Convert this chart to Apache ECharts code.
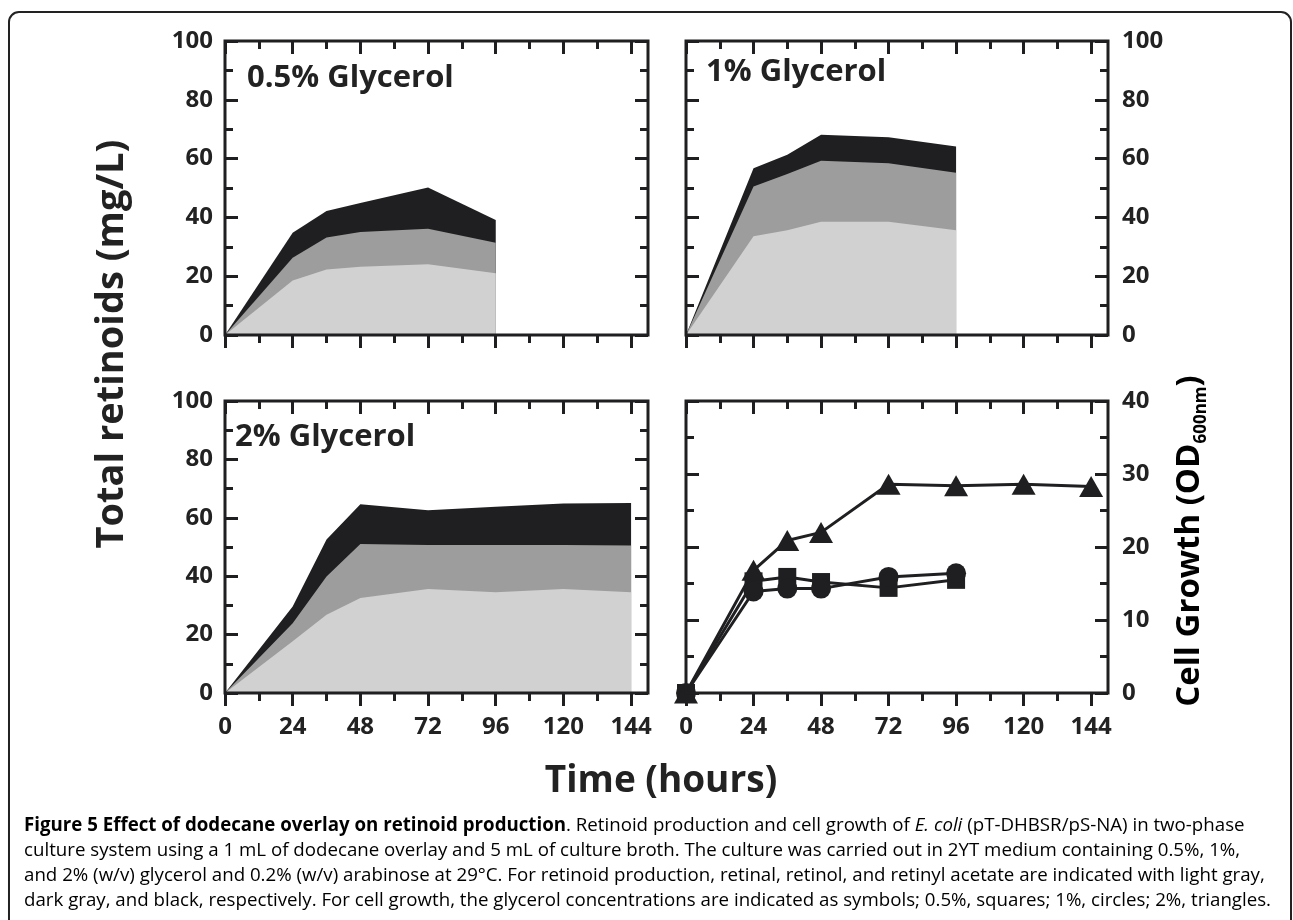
<!DOCTYPE html>
<html>
<head>
<meta charset="utf-8">
<script src="https://cdn.jsdelivr.net/npm/echarts@6/dist/echarts.min.js"></script>
<style>
  html, body { margin: 0; padding: 0; background: #fff; }
  #chart { width: 1293px; height: 920px; }
</style>
</head>
<body>
<div id="chart"></div>
<script>
// time points (hours)
const hours96 = [0, 24, 36, 48, 72, 96];
const hours144 = [0, 24, 36, 48, 72, 96, 120, 144];
const timeTicks = [0, 24, 48, 72, 96, 120, 144];
const timeMinorTicks = [12, 36, 60, 84, 108, 132];

// retinoids (mg/L): retinal (light gray), retinol (dark gray), retinyl acetate (black)
const retinal05 = [0, 18.5, 22.3, 23.2, 24.1, 21.0];
const retinol05 = [0, 7.8, 10.9, 11.8, 12.0, 10.4];
const acetate05 = [0, 8.5, 9.0, 9.9, 14.1, 7.7];

const retinal1 = [0, 33.6, 35.6, 38.5, 38.5, 35.6];
const retinol1 = [0, 16.9, 19.2, 20.8, 19.9, 19.6];
const acetate1 = [0, 6.2, 6.5, 8.8, 8.9, 8.9];

const retinal2 = [0, 17.7, 26.8, 32.5, 35.6, 34.5, 35.6, 34.5];
const retinol2 = [0, 6.2, 13.1, 18.5, 15.1, 16.2, 15.1, 16.0];
const acetate2 = [0, 5.7, 12.7, 13.6, 11.9, 13.1, 14.2, 14.6];

// cell growth OD600
const growth05 = [0, 15.3, 15.9, 15.2, 14.4, 15.5];   // squares
const growth1 = [0, 13.9, 14.3, 14.3, 15.9, 16.4];    // circles
const growth2 = [0, 16.8, 20.9, 22.0, 28.6, 28.4, 28.6, 28.3]; // triangles

const panelTitles = ['0.5% Glycerol', '1% Glycerol', '2% Glycerol'];

const FONT = '"Open Sans", "DejaVu Sans", sans-serif';
const INK = '#1f1f21';
const LIGHT = '#d1d1d1';
const DARK = '#9d9d9d';

const grids = [
  { left: 225, top: 41, width: 423, height: 294 },
  { left: 686, top: 41, width: 422, height: 294 },
  { left: 225, top: 401, width: 423, height: 292 },
  { left: 686, top: 401, width: 422, height: 292 }
];

const xAxes = [];
const yAxes = [];

function tickLabel() {
  return { fontFamily: FONT, fontWeight: 'bold', fontSize: 24, color: '#222' };
}

grids.forEach(function (g, i) {
  const bottomRow = i >= 2;
  const rightCol = i % 2 === 1;
  const base = { type: 'value', gridIndex: i, min: 0, max: 150, splitLine: { show: false },
    axisLine: { show: false, onZero: false } };
  // bottom major
  xAxes.push(Object.assign({}, base, {
    position: 'bottom',
    axisTick: { show: true, inside: false, length: 13, customValues: timeTicks,
      lineStyle: { color: INK, width: 3 } },
    axisLabel: Object.assign(tickLabel(), { show: bottomRow, customValues: timeTicks, margin: 22 })
  }));
  // bottom minor
  xAxes.push(Object.assign({}, base, {
    position: 'bottom',
    axisTick: { show: true, inside: false, length: 8, customValues: timeMinorTicks,
      lineStyle: { color: INK, width: 3 } },
    axisLabel: { show: false }
  }));
  // top major
  xAxes.push(Object.assign({}, base, {
    position: 'top',
    axisTick: { show: true, inside: true, length: 13, customValues: timeTicks,
      lineStyle: { color: INK, width: 3 } },
    axisLabel: { show: false }
  }));
  // top minor
  xAxes.push(Object.assign({}, base, {
    position: 'top',
    axisTick: { show: true, inside: true, length: 8, customValues: timeMinorTicks,
      lineStyle: { color: INK, width: 3 } },
    axisLabel: { show: false }
  }));

  const yMax = i === 3 ? 40 : 100;
  const yInt = i === 3 ? 10 : 20;
  ['left', 'right'].forEach(function (side) {
    const labelled = (side === 'left') !== rightCol;
    yAxes.push({
      type: 'value', gridIndex: i, position: side, min: 0, max: yMax, interval: yInt,
      splitLine: { show: false },
      axisLine: { show: false, onZero: false },
      axisTick: { show: true, inside: true, length: 13, lineStyle: { color: INK, width: 3 } },
      minorTick: { show: true, splitNumber: 2, length: 8, lineStyle: { color: INK, width: 3 } },
      axisLabel: Object.assign(tickLabel(), { show: labelled, margin: side === 'left' ? 12 : 14 })
    });
  });
});

function zip(xs, ys) {
  return xs.map(function (x, k) { return [x, ys[k]]; });
}

// cumulative layers drawn back to front (total first), each filled down to zero
function areaSeries(panel, hours, layers) {
  const colors = [LIGHT, DARK, INK];
  const names = ['retinal', 'retinol', 'retinyl acetate'];
  const cum = [];
  layers.forEach(function (vals, k) {
    cum.push(vals.map(function (v, j) { return (k ? cum[k - 1][j] : 0) + v; }));
  });
  return cum.map(function (vals, k) {
    return {
      name: names[k], type: 'line', xAxisIndex: panel * 4, yAxisIndex: panel * 2 + (panel % 2),
      data: zip(hours, vals), showSymbol: false, symbol: 'none',
      lineStyle: { width: 0 }, areaStyle: { color: colors[k], opacity: 1 },
      silent: true, z: 2
    };
  }).reverse();
}

function growthSeries(name, hours, vals, symbol, size) {
  return {
    name: name, type: 'line', xAxisIndex: 12, yAxisIndex: 7,
    data: zip(hours, vals), symbol: symbol, symbolSize: size, showAllSymbol: true,
    clip: false,
    lineStyle: { color: INK, width: 3 }, itemStyle: { color: INK }, z: 3
  };
}

const series = []
  .concat(areaSeries(0, hours96, [retinal05, retinol05, acetate05]))
  .concat(areaSeries(1, hours96, [retinal1, retinol1, acetate1]))
  .concat(areaSeries(2, hours144, [retinal2, retinol2, acetate2]))
  .concat([
    growthSeries('0.5%', hours96, growth05, 'rect', 18),
    growthSeries('1%', hours96, growth1, 'circle', 20),
    growthSeries('2%', hours144, growth2, 'triangle', [24, 21])
  ]);

const CAP = 18.7;
const captionRich = {
  b: { fontFamily: FONT, fontWeight: 'bold', fontSize: CAP, color: '#231f20' },
  n: { fontFamily: FONT, fontSize: CAP, color: '#231f20' },
  i: { fontFamily: FONT, fontStyle: 'italic', fontSize: CAP, color: '#231f20' }
};
const captionLines = [
  '{b|Figure 5 Effect of dodecane overlay on retinoid production}{n|. Retinoid production and cell growth of }{i|E. coli}{n| (pT-DHBSR/pS-NA) in two-phase}',
  '{n|culture system using a 1 mL of dodecane overlay and 5 mL of culture broth. The culture was carried out in 2YT medium containing 0.5%, 1%,}',
  '{n|and 2% (w/v) glycerol and 0.2% (w/v) arabinose at 29°C. For retinoid production, retinal, retinol, and retinyl acetate are indicated with light gray,}',
  '{n|dark gray, and black, respectively. For cell growth, the glycerol concentrations are indicated as symbols; 0.5%, squares; 1%, circles; 2%, triangles.}'
];

const graphics = [
  { type: 'rect', shape: { x: 9, y: 12, width: 1282, height: 940, r: 10 },
    style: { fill: 'none', stroke: '#222', lineWidth: 2 }, silent: true },
  { type: 'text', x: 247, y: 78, style: { text: panelTitles[0], font: 'bold 31px ' + FONT, fill: '#222', verticalAlign: 'middle' }, z: 10 },
  { type: 'text', x: 706, y: 72, style: { text: panelTitles[1], font: 'bold 31px ' + FONT, fill: '#222', verticalAlign: 'middle' }, z: 10 },
  { type: 'text', x: 235, y: 437, style: { text: panelTitles[2], font: 'bold 31px ' + FONT, fill: '#222', verticalAlign: 'middle' }, z: 10 },
  { type: 'text', x: 112, y: 344, rotation: Math.PI / 2,
    style: { text: 'Total retinoids (mg/L)', font: 'bold 38px ' + FONT, fill: '#222', align: 'center', verticalAlign: 'middle' } },
  { type: 'text', x: 1190, y: 541, rotation: Math.PI / 2,
    style: {
      text: '{a|Cell Growth (OD}{s|600nm}{a|)}',
      align: 'center', verticalAlign: 'middle',
      rich: {
        a: { fontFamily: FONT, fontWeight: 'bold', fontSize: 33, color: '#222', lineHeight: 40 },
        s: { fontFamily: FONT, fontWeight: 'bold', fontSize: 17, color: '#222', lineHeight: 40, verticalAlign: 'bottom' }
      }
    } },
  { type: 'text', x: 661, y: 781,
    style: { text: 'Time (hours)', font: 'bold 37px ' + FONT, fill: '#222', align: 'center', verticalAlign: 'middle' } }
];
captionLines.forEach(function (line, k) {
  graphics.push({ type: 'text', x: 24, y: 826 + k * 25,
    style: { text: line, rich: captionRich, align: 'left', verticalAlign: 'middle' } });
});

const chart = echarts.init(document.getElementById('chart'), null, { renderer: 'canvas' });
chart.setOption({
  animation: false,
  backgroundColor: '#fff',
  grid: grids.map(function (g) {
    return Object.assign({ show: true, borderColor: INK, borderWidth: 3, backgroundColor: 'transparent', z: 5 }, g);
  }),
  xAxis: xAxes,
  yAxis: yAxes,
  series: series,
  graphic: graphics
});
</script>
</body>
</html>
